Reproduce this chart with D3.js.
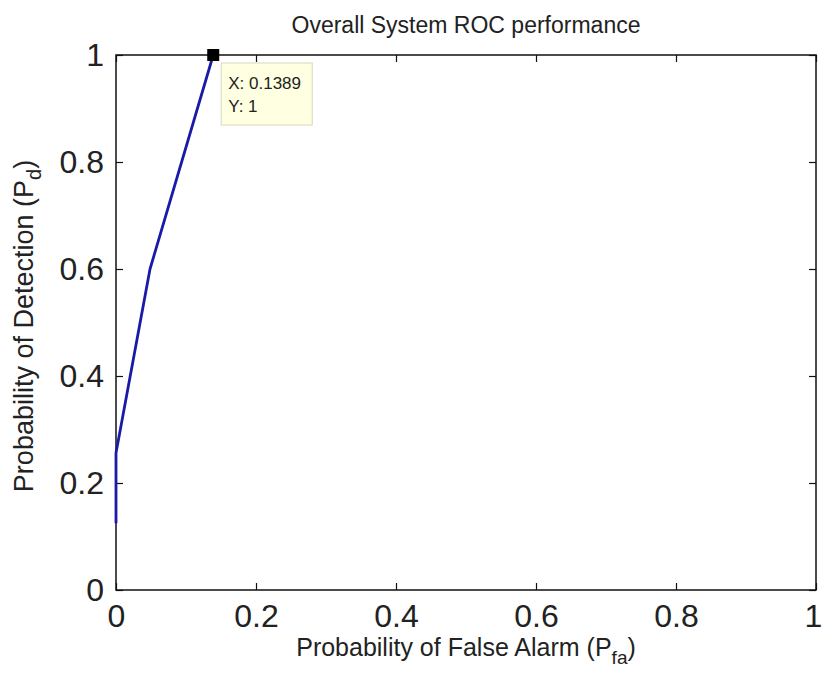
<!DOCTYPE html>
<html>
<head>
<meta charset="utf-8">
<script src="https://cdn.jsdelivr.net/npm/d3@7"></script>
<style>
  body { margin: 0; background: #fff; }
  text { font-family: "Liberation Sans", Arial, sans-serif; fill: #222; }
</style>
</head>
<body>
<div id="chart"></div>
<script>
var pfa = [0, 0, 0.0486, 0.1389];
var pd = [0.125, 0.256, 0.6, 1];
var xTicks = [0, 0.2, 0.4, 0.6, 0.8, 1];
var yTicks = [0, 0.2, 0.4, 0.6, 0.8, 1];
var tipX = 0.1389, tipY = 1;

var W = 822, H = 679;
var margin = {top: 55, right: 6, bottom: 89, left: 116},
    width = W - margin.left - margin.right,
    height = H - margin.top - margin.bottom;

var x = d3.scaleLinear().domain([0, 1]).range([0, width]);
var y = d3.scaleLinear().domain([0, 1]).range([height, 0]);

var svg = d3.select("#chart").append("svg")
    .attr("width", W)
    .attr("height", H);

var g = svg.append("g")
    .attr("transform", "translate(" + margin.left + "," + margin.top + ")");

// box with inward ticks on all four sides
function styleAxis(sel) {
  sel.select(".domain").remove();
  sel.selectAll(".tick line").attr("stroke", "#111").attr("stroke-width", 1.2);
  sel.selectAll(".tick text").style("font-size", "32px").attr("fill", "#111");
}

var xAxisG = g.append("g")
  .attr("transform", "translate(0," + height + ")")
  .call(d3.axisBottom(x).tickValues(xTicks).tickFormat(d3.format("")).tickSizeInner(-7).tickPadding(14))
  .call(styleAxis);
// last label sits at the window edge
xAxisG.selectAll(".tick text").filter(function(d) { return d === 1; }).attr("dx", -3);

g.append("g")
  .call(d3.axisTop(x).tickValues(xTicks).tickFormat("").tickSizeInner(-7))
  .call(styleAxis);
g.append("g")
  .call(d3.axisLeft(y).tickValues(yTicks).tickFormat(d3.format("")).tickSizeInner(-7).tickPadding(12))
  .call(styleAxis);
g.append("g")
  .attr("transform", "translate(" + width + ",0)")
  .call(d3.axisRight(y).tickValues(yTicks).tickFormat("").tickSizeInner(-7))
  .call(styleAxis);

g.append("rect")
  .attr("width", width)
  .attr("height", height)
  .attr("fill", "none")
  .attr("stroke", "#111")
  .attr("stroke-width", 1.5);

// roc curve
var line = d3.line()
  .x(function(d, i) { return x(pfa[i]); })
  .y(function(d, i) { return y(pd[i]); });

g.append("path")
  .datum(pfa)
  .attr("d", line)
  .attr("fill", "none")
  .attr("stroke", "#1a1aa8")
  .attr("stroke-width", 2.8)
  .attr("stroke-linejoin", "round");

// data cursor
g.append("rect")
  .attr("x", x(tipX) - 6)
  .attr("y", y(tipY) - 6)
  .attr("width", 12)
  .attr("height", 12)
  .attr("fill", "#000");

var tip = g.append("g")
  .attr("transform", "translate(" + (x(tipX) + 8) + "," + (y(tipY) + 8) + ")");
tip.append("rect")
  .attr("width", 91)
  .attr("height", 62)
  .attr("fill", "#ffffe1")
  .attr("stroke", "#d8d8c0");
tip.append("text")
  .attr("x", 7).attr("y", 26)
  .style("font-size", "17px")
  .text("X: " + tipX);
tip.append("text")
  .attr("x", 7).attr("y", 49)
  .style("font-size", "17px")
  .text("Y: " + tipY);

// labels
svg.append("text")
  .attr("x", margin.left + width / 2)
  .attr("y", 33)
  .attr("text-anchor", "middle")
  .style("font-size", "23px")
  .text("Overall System ROC performance");

var xl = svg.append("text")
  .attr("x", margin.left + width / 2)
  .attr("y", 656)
  .attr("text-anchor", "middle")
  .style("font-size", "25px");
xl.append("tspan").text("Probability of False Alarm (P");
xl.append("tspan").attr("dy", 8).style("font-size", "19px").text("fa");
xl.append("tspan").attr("dy", -8).text(")");

var yl = svg.append("text")
  .attr("transform", "translate(33,326) rotate(-90)")
  .attr("text-anchor", "middle")
  .style("font-size", "27px");
yl.append("tspan").text("Probability of Detection (P");
yl.append("tspan").attr("dy", 8).style("font-size", "20px").text("d");
yl.append("tspan").attr("dy", -8).text(")");
</script>
</body>
</html>
